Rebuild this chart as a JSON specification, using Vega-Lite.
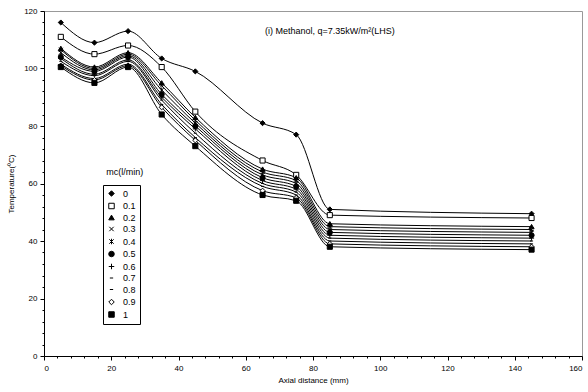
{
  "$schema": "https://vega.github.io/schema/vega-lite/v6.json",
  "width": 538,
  "height": 345,
  "autosize": {"type": "none"},
  "padding": {"left": 44, "top": 11, "right": 6, "bottom": 36},
  "background": "white",
  "config": {
    "view": {"stroke": "#999999", "strokeWidth": 1},
    "font": "Liberation Sans",
    "axis": {"labelFont": "Liberation Sans", "titleFont": "Liberation Sans", "labelFontSize": 8, "titleFontSize": 8, "titleFontWeight": "normal", "labelColor": "#000", "titleColor": "#000", "domainColor": "#000", "tickColor": "#000", "grid": false},
    "legend": {"symbolStrokeWidth": 1, "symbolStrokeColor": "#000"}
  },
  "datasets": {
    "d": [
      {"x": 5, "T": 116, "s": "0"}, {"x": 15, "T": 109, "s": "0"}, {"x": 25, "T": 113, "s": "0"}, {"x": 35, "T": 103.5, "s": "0"}, {"x": 45, "T": 99, "s": "0"}, {"x": 65, "T": 81, "s": "0"}, {"x": 75, "T": 77, "s": "0"}, {"x": 85, "T": 51, "s": "0"}, {"x": 145, "T": 49.5, "s": "0"},
      {"x": 5, "T": 111, "s": "0.1"}, {"x": 15, "T": 105, "s": "0.1"}, {"x": 25, "T": 108, "s": "0.1"}, {"x": 35, "T": 100.5, "s": "0.1"}, {"x": 45, "T": 85, "s": "0.1"}, {"x": 65, "T": 68, "s": "0.1"}, {"x": 75, "T": 63, "s": "0.1"}, {"x": 85, "T": 49, "s": "0.1"}, {"x": 145, "T": 48, "s": "0.1"},
      {"x": 5, "T": 107, "s": "0.2"}, {"x": 15, "T": 100.5, "s": "0.2"}, {"x": 25, "T": 105.5, "s": "0.2"}, {"x": 35, "T": 95, "s": "0.2"}, {"x": 45, "T": 83, "s": "0.2"}, {"x": 65, "T": 65, "s": "0.2"}, {"x": 75, "T": 62, "s": "0.2"}, {"x": 85, "T": 46, "s": "0.2"}, {"x": 145, "T": 45, "s": "0.2"},
      {"x": 5, "T": 106.5, "s": "0.3"}, {"x": 15, "T": 100, "s": "0.3"}, {"x": 25, "T": 105, "s": "0.3"}, {"x": 35, "T": 94, "s": "0.3"}, {"x": 45, "T": 82, "s": "0.3"}, {"x": 65, "T": 64, "s": "0.3"}, {"x": 75, "T": 61, "s": "0.3"}, {"x": 85, "T": 45, "s": "0.3"}, {"x": 145, "T": 44, "s": "0.3"},
      {"x": 5, "T": 105.5, "s": "0.4"}, {"x": 15, "T": 99.5, "s": "0.4"}, {"x": 25, "T": 104.5, "s": "0.4"}, {"x": 35, "T": 92.5, "s": "0.4"}, {"x": 45, "T": 81, "s": "0.4"}, {"x": 65, "T": 63, "s": "0.4"}, {"x": 75, "T": 60, "s": "0.4"}, {"x": 85, "T": 44, "s": "0.4"}, {"x": 145, "T": 43, "s": "0.4"},
      {"x": 5, "T": 104, "s": "0.5"}, {"x": 15, "T": 99, "s": "0.5"}, {"x": 25, "T": 104, "s": "0.5"}, {"x": 35, "T": 91, "s": "0.5"}, {"x": 45, "T": 80, "s": "0.5"}, {"x": 65, "T": 62, "s": "0.5"}, {"x": 75, "T": 59, "s": "0.5"}, {"x": 85, "T": 43, "s": "0.5"}, {"x": 145, "T": 42, "s": "0.5"},
      {"x": 5, "T": 103.5, "s": "0.6"}, {"x": 15, "T": 98, "s": "0.6"}, {"x": 25, "T": 103, "s": "0.6"}, {"x": 35, "T": 90, "s": "0.6"}, {"x": 45, "T": 79, "s": "0.6"}, {"x": 65, "T": 61, "s": "0.6"}, {"x": 75, "T": 58, "s": "0.6"}, {"x": 85, "T": 42, "s": "0.6"}, {"x": 145, "T": 41, "s": "0.6"},
      {"x": 5, "T": 102.5, "s": "0.7"}, {"x": 15, "T": 97.5, "s": "0.7"}, {"x": 25, "T": 102.5, "s": "0.7"}, {"x": 35, "T": 89, "s": "0.7"}, {"x": 45, "T": 77.5, "s": "0.7"}, {"x": 65, "T": 60, "s": "0.7"}, {"x": 75, "T": 57, "s": "0.7"}, {"x": 85, "T": 41, "s": "0.7"}, {"x": 145, "T": 40, "s": "0.7"},
      {"x": 5, "T": 101.5, "s": "0.8"}, {"x": 15, "T": 96.5, "s": "0.8"}, {"x": 25, "T": 101.5, "s": "0.8"}, {"x": 35, "T": 87.5, "s": "0.8"}, {"x": 45, "T": 76, "s": "0.8"}, {"x": 65, "T": 59, "s": "0.8"}, {"x": 75, "T": 56, "s": "0.8"}, {"x": 85, "T": 40, "s": "0.8"}, {"x": 145, "T": 39, "s": "0.8"},
      {"x": 5, "T": 101, "s": "0.9"}, {"x": 15, "T": 96, "s": "0.9"}, {"x": 25, "T": 101, "s": "0.9"}, {"x": 35, "T": 86.5, "s": "0.9"}, {"x": 45, "T": 75, "s": "0.9"}, {"x": 65, "T": 57.5, "s": "0.9"}, {"x": 75, "T": 55, "s": "0.9"}, {"x": 85, "T": 39, "s": "0.9"}, {"x": 145, "T": 38, "s": "0.9"},
      {"x": 5, "T": 100.5, "s": "1"}, {"x": 15, "T": 95, "s": "1"}, {"x": 25, "T": 100.5, "s": "1"}, {"x": 35, "T": 84, "s": "1"}, {"x": 45, "T": 73, "s": "1"}, {"x": 65, "T": 56, "s": "1"}, {"x": 75, "T": 54, "s": "1"}, {"x": 85, "T": 38, "s": "1"}, {"x": 145, "T": 37, "s": "1"}
    ],
    "notes": [
      {"x": 85, "y": 113, "text": "(i) Methanol, q=7.35kW/m²(LHS)"},
      {"x": 24, "y": 64, "text": "mc(l/min)"}
    ]
  },
  "layer": [
    {
      "data": {"name": "d"},
      "mark": {"type": "line", "interpolate": "monotone", "color": "#000", "strokeWidth": 1},
      "encoding": {
        "x": {"field": "x", "type": "quantitative", "scale": {"domain": [0, 160], "nice": false}, "axis": {"values": [0, 20, 40, 60, 80, 100, 120, 140, 160], "title": "Axial distance (mm)", "tickSize": 4, "labelPadding": 4, "titlePadding": 4, "orient": "bottom"}},
        "y": {"field": "T", "type": "quantitative", "scale": {"domain": [0, 120], "nice": false}, "axis": {"values": [0, 20, 40, 60, 80, 100, 120], "title": "Temperature(⁰C)", "tickSize": 4, "labelPadding": 3, "titlePadding": 8, "orient": "left"}},
        "detail": {"field": "s", "type": "nominal"}
      }
    },
    {
      "data": {"name": "d"},
      "mark": {"type": "point", "filled": false, "strokeWidth": 1, "opacity": 1, "size": 26},
      "encoding": {
        "x": {"field": "x", "type": "quantitative", "axis": {"values": [4, 8, 12, 16, 24, 28, 32, 36, 44, 48, 52, 56, 64, 68, 72, 76, 84, 88, 92, 96, 104, 108, 112, 116, 124, 128, 132, 136, 144, 148, 152, 156], "labels": false, "domain": false, "tickSize": 2, "title": null, "orient": "bottom"}},
        "y": {"field": "T", "type": "quantitative", "axis": {"values": [4, 8, 12, 16, 24, 28, 32, 36, 44, 48, 52, 56, 64, 68, 72, 76, 84, 88, 92, 96, 104, 108, 112, 116], "labels": false, "domain": false, "tickSize": 2, "title": null, "orient": "left"}},
        "shape": {
          "field": "s", "type": "nominal",
          "scale": {
            "domain": ["0", "0.1", "0.2", "0.3", "0.4", "0.5", "0.6", "0.7", "0.8", "0.9", "1"],
            "range": ["diamond", "square", "triangle-up", "M-0.8,-0.8L0.8,0.8M-0.8,0.8L0.8,-0.8", "M-0.8,-0.8L0.8,0.8M-0.8,0.8L0.8,-0.8M0,-1L0,1", "circle", "M-1,0L1,0M0,-1L0,1", "M-0.6,0L0.6,0", "M-0.6,0L0.6,0", "diamond", "square"]
          },
          "legend": {"title": null, "orient": "none", "legendX": 59, "legendY": 174, "strokeColor": "#000", "padding": 4, "labelFontSize": 9, "labelFont": "Liberation Sans", "labelColor": "#000", "symbolSize": 30, "rowPadding": 1.5, "labelOffset": 7, "fillColor": "white"}
        },
        "fill": {
          "field": "s", "type": "nominal",
          "scale": {
            "domain": ["0", "0.1", "0.2", "0.3", "0.4", "0.5", "0.6", "0.7", "0.8", "0.9", "1"],
            "range": ["#000", "#fff", "#000", "#000", "#000", "#000", "#000", "#000", "#000", "#fff", "#000"]
          },
          "legend": {"title": null, "orient": "none", "legendX": 59, "legendY": 174, "strokeColor": "#000", "padding": 4, "labelFontSize": 9, "labelFont": "Liberation Sans", "labelColor": "#000", "symbolSize": 30, "rowPadding": 1.5, "labelOffset": 7, "fillColor": "white"}
        },
        "stroke": {
          "field": "s", "type": "nominal",
          "scale": {
            "domain": ["0", "0.1", "0.2", "0.3", "0.4", "0.5", "0.6", "0.7", "0.8", "0.9", "1"],
            "range": ["#000", "#000", "#000", "#000", "#000", "#000", "#000", "#000", "#000", "#000", "#000"]
          },
          "legend": {"title": null, "orient": "none", "legendX": 59, "legendY": 174, "strokeColor": "#000", "padding": 4, "labelFontSize": 9, "labelFont": "Liberation Sans", "labelColor": "#000", "symbolSize": 30, "rowPadding": 1.5, "labelOffset": 7, "fillColor": "white"}
        }
      }
    },
    {
      "data": {"name": "notes"},
      "mark": {"type": "text", "font": "Liberation Sans", "fontSize": 9, "color": "#000", "align": "center", "baseline": "middle"},
      "encoding": {
        "x": {"field": "x", "type": "quantitative", "axis": null},
        "y": {"field": "y", "type": "quantitative", "axis": null},
        "text": {"field": "text"}
      }
    }
  ],
  "resolve": {"axis": {"x": "independent", "y": "independent"}}
}
